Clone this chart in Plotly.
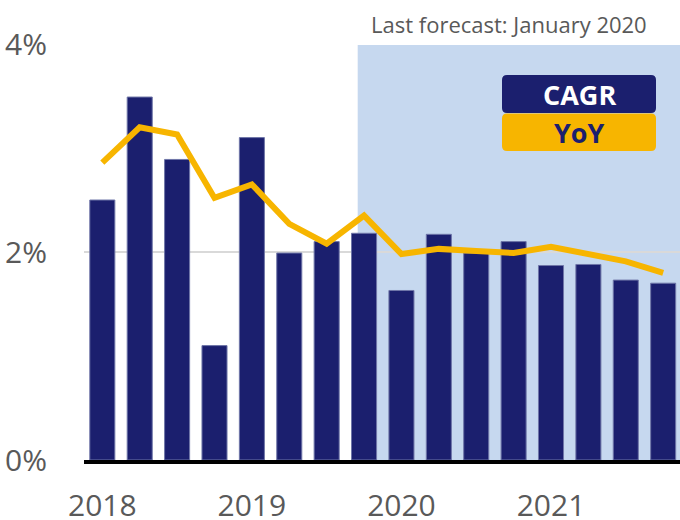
import plotly.graph_objects as go

quarters = ["2018 Q1", "2018 Q2", "2018 Q3", "2018 Q4",
            "2019 Q1", "2019 Q2", "2019 Q3", "2019 Q4",
            "2020 Q1", "2020 Q2", "2020 Q3", "2020 Q4",
            "2021 Q1", "2021 Q2", "2021 Q3", "2021 Q4"]
cagr = [2.50, 3.49, 2.89, 1.10, 3.10, 1.99, 2.10, 2.18,
        1.63, 2.17, 1.99, 2.10, 1.87, 1.88, 1.73, 1.70]
yoy = [2.86, 3.20, 3.13, 2.52, 2.65, 2.27, 2.08, 2.35,
       1.98, 2.03, 2.01, 1.99, 2.05, 1.98, 1.91, 1.80]
year_ticks = ["2018 Q1", "2019 Q1", "2020 Q1", "2021 Q1"]
year_labels = ["2018", "2019", "2020", "2021"]
y_ticks = [0, 2, 4]
y_labels = ["0%", "2%", "4%"]

NAVY = "#1B1F6E"
GOLD = "#F7B500"
SHADE = "#C6D8EF"
GREY = "#595959"
FONT = "Open Sans"

fig = go.Figure()
fig.add_trace(go.Bar(x=quarters, y=cagr, marker=dict(color=NAVY, line=dict(color="#6F76A8", width=1)),
                     width=0.67, showlegend=False, hoverinfo="skip"))
fig.add_trace(go.Scatter(x=quarters, y=yoy, mode="lines", line=dict(color=GOLD, width=6),
                         showlegend=False, hoverinfo="skip"))

W, H = 596.0, 416.0

def rrect(x0, y0, x1, y1, r=5):
    def px(x):
        return (x - 84) / W
    def py(y):
        return (460 - y) / H
    rx, ry = r / W, r / H
    a, b, c, d = px(x0), py(y0), px(x1), py(y1)
    return (f"M{a+rx},{b} L{c-rx},{b} Q{c},{b} {c},{b-ry} L{c},{d+ry} Q{c},{d} {c-rx},{d} "
            f"L{a+rx},{d} Q{a},{d} {a},{d+ry} L{a},{b-ry} Q{a},{b} {a+rx},{b} Z")

shapes = [
    dict(type="rect", xref="x", yref="y", x0=6.83, x1=15.6, y0=0, y1=3.99,
         fillcolor=SHADE, line=dict(width=0), layer="below"),
    dict(type="path", xref="paper", yref="paper", path=rrect(502, 75, 656, 113),
         fillcolor=NAVY, line=dict(width=0)),
    dict(type="path", xref="paper", yref="paper", path=rrect(502, 113.5, 656, 151),
         fillcolor=GOLD, line=dict(width=0)),
]

annotations = [
    dict(text="Last forecast: January 2020", xref="paper", yref="paper",
         x=(509 - 84) / W, y=(460 - 24) / H, showarrow=False,
         font=dict(family=FONT, size=22, color=GREY), xanchor="center", yanchor="middle"),
    dict(text="<b>CAGR</b>", xref="paper", yref="paper", x=(579 - 84) / W, y=(460 - 94) / H,
         showarrow=False, font=dict(family=FONT, size=27, color="white"),
         xanchor="center", yanchor="middle"),
    dict(text="<b>YoY</b>", xref="paper", yref="paper", x=(579 - 84) / W, y=(460 - 132) / H,
         showarrow=False, font=dict(family=FONT, size=27, color=NAVY),
         xanchor="center", yanchor="middle"),
]

fig.update_layout(
    width=680, height=520,
    margin=dict(l=84, r=0, t=44, b=60),
    plot_bgcolor="white", paper_bgcolor="white",
    shapes=shapes, annotations=annotations,
    xaxis=dict(range=[-0.49, 15.45], tickmode="array", tickvals=year_ticks, ticktext=year_labels,
               tickfont=dict(family=FONT, size=30, color=GREY), showgrid=False,
               ticks="outside", ticklen=16, tickcolor="rgba(0,0,0,0)",
               showline=True, linecolor="black", linewidth=4, zeroline=False, automargin=False),
    yaxis=dict(range=[0, 4], tickmode="array", tickvals=y_ticks, ticktext=y_labels,
               tickfont=dict(family=FONT, size=30, color=GREY),
               showgrid=True, gridcolor="#D9D9D9", gridwidth=2, zeroline=False,
               ticks="outside", ticklen=30, tickcolor="rgba(0,0,0,0)", automargin=False),
)

fig.write_html("out.html", config={"displayModeBar": False},
               post_script="document.body.style.margin='0';document.body.style.overflow='hidden';")
